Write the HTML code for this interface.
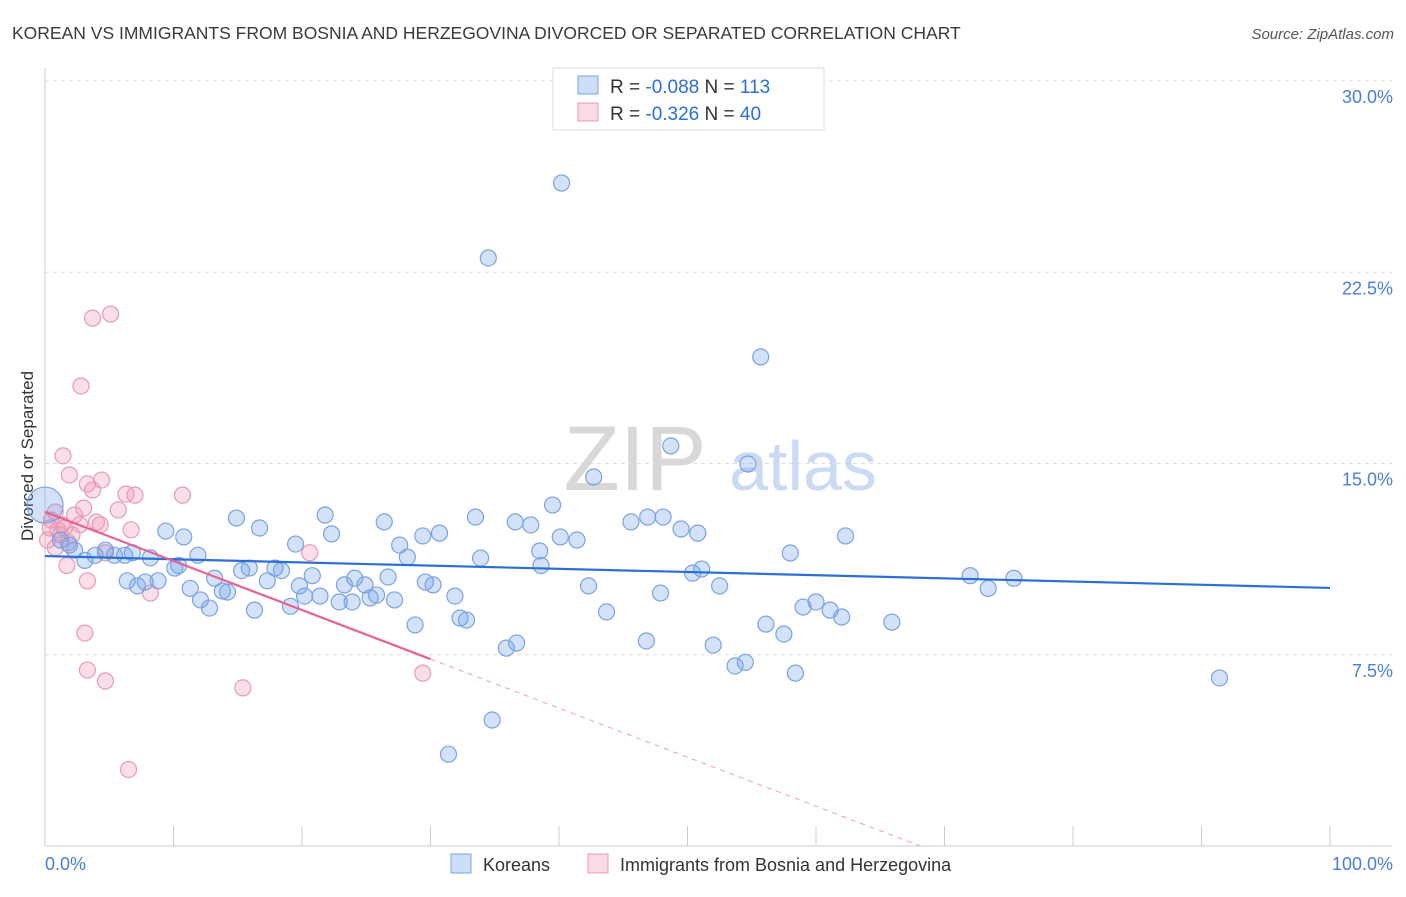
<!DOCTYPE html>
<html><head><meta charset="utf-8"><style>
body{margin:0;background:#fff;font-family:"Liberation Sans",sans-serif;}
svg text{font-family:"Liberation Sans",sans-serif;}
</style></head><body>
<svg width="1406" height="892" xmlns="http://www.w3.org/2000/svg">
<text x="12" y="39" font-size="17.5" fill="#3a3a3a">KOREAN VS IMMIGRANTS FROM BOSNIA AND HERZEGOVINA DIVORCED OR SEPARATED CORRELATION CHART</text>
<text x="1394" y="39" font-size="15" fill="#555" font-style="italic" text-anchor="end">Source: ZipAtlas.com</text>
<g id="grid"></g>
<g>
<text x="635" y="490" font-size="92" fill="#d8d8d8" font-family="Liberation Serif,serif" text-anchor="middle">ZIP</text>
<text x="803" y="490" font-size="70" fill="#c9daf2" text-anchor="middle">atlas</text>
</g>
<line x1="45" y1="68" x2="45" y2="846" stroke="#ccc"/>
<line x1="45" y1="846" x2="1392" y2="846" stroke="#ccc"/>
<g id="xticks"></g>
<g id="ylabels"></g>
<text x="45" y="870" font-size="18" fill="#4a7fd6">0.0%</text>
<text x="1393" y="870" font-size="18" fill="#4a7fd6" text-anchor="end">100.0%</text>
<text transform="translate(33,456) rotate(-90)" font-size="17" fill="#333" text-anchor="middle">Divorced or Separated</text>
<g id="pink"></g>
<g id="blue"></g>
<g id="lines"></g>
<g>
<rect x="553" y="68" width="271" height="62" fill="#fff" stroke="#ddd"/>
<rect x="578" y="76" width="20" height="18" fill="rgba(110,160,235,0.35)" stroke="#7aa3e0"/>
<rect x="578" y="103" width="20" height="18" fill="rgba(240,150,180,0.35)" stroke="#e89ab5"/>
<text x="610" y="93" font-size="19" fill="#333">R = <tspan fill="#2b6fd6">-0.088</tspan>   N = <tspan fill="#2b6fd6">113</tspan></text>
<text x="610" y="120" font-size="19" fill="#333">R =  <tspan fill="#2b6fd6">-0.326</tspan>   N =  <tspan fill="#2b6fd6">40</tspan></text>
</g>
<g>
<rect x="451" y="854" width="20" height="19" fill="rgba(110,160,235,0.35)" stroke="#7aa3e0"/>
<text x="483" y="871" font-size="18" fill="#333">Koreans</text>
<rect x="588" y="854" width="20" height="19" fill="rgba(240,150,180,0.35)" stroke="#e89ab5"/>
<text x="620" y="871" font-size="18" fill="#333">Immigrants from Bosnia and Herzegovina</text>
</g>
</svg>
<script>
const yTicks=[7.5,15,22.5,30];
const yTickLabels=["7.5%","15.0%","22.5%","30.0%"];
const xTicks=[0,10,20,30,40,50,60,70,80,90,100];
const blueX=[40.2,34.5,55.7,48.7,54.7,42.7,39.5,14.9,21.8,33.5,26.4,36.6,9.4,16.7,22.3,37.8,45.6,46.9,48.1,49.5,50.8,62.3,29.4,30.7,40.1,41.4,10.8,19.5,27.6,28.2,38.5,33.9,58.0,1.2,1.9,2.3,3.1,3.9,4.7,5.4,6.2,6.8,8.2,10.4,11.9,10.1,6.4,7.2,7.8,8.8,11.3,12.1,12.8,13.2,13.8,14.2,15.3,15.9,16.3,17.3,17.9,18.4,19.1,19.8,20.2,20.8,21.4,22.9,23.3,24.1,23.9,24.9,25.3,25.8,26.7,27.2,29.6,30.2,28.8,31.9,32.3,32.8,35.9,36.7,34.8,31.4,38.6,42.3,43.7,46.8,47.9,50.4,51.1,52.5,52.0,53.7,54.5,56.1,57.5,58.4,59.0,60.0,61.1,62.0,65.9,72.0,73.4,75.4,91.4];
const blueY=[26.0,23.06,19.18,15.69,14.98,14.47,13.37,12.86,12.98,12.9,12.71,12.71,12.35,12.47,12.24,12.59,12.71,12.9,12.9,12.43,12.27,12.16,12.16,12.27,12.12,12.0,12.12,11.84,11.8,11.33,11.57,11.29,11.49,12.0,11.8,11.6,11.2,11.4,11.6,11.4,11.4,11.5,11.3,11.0,11.4,10.9,10.4,10.2,10.35,10.4,10.1,9.65,9.33,10.5,10.0,9.96,10.8,10.9,9.25,10.4,10.9,10.8,9.4,10.2,9.8,10.6,9.8,9.57,10.24,10.5,9.57,10.24,9.73,9.84,10.55,9.65,10.35,10.24,8.67,9.8,8.94,8.86,7.76,7.96,4.94,3.6,11.0,10.2,9.18,8.04,9.92,10.7,10.86,10.2,7.88,7.06,7.2,8.7,8.31,6.78,9.37,9.57,9.25,8.98,8.78,10.6,10.1,10.5,6.59];
const bigX=[0], bigY=[13.37];
const pinkX=[5.1,3.7,2.8,1.4,1.9,4.4,3.3,3.7,6.3,7.0,10.7,5.7,3.0,2.3,0.8,0.5,1.3,1.0,4.0,6.7,0.4,2.1,1.8,1.2,4.7,20.6,1.7,3.3,8.2,3.1,3.3,4.7,15.4,29.4,6.5,2.7,0.2,0.8,1.5,4.3];
const pinkY=[20.86,20.7,18.04,15.3,14.55,14.35,14.2,13.96,13.8,13.76,13.76,13.18,13.25,12.98,13.1,12.78,12.6,12.4,12.7,12.4,12.47,12.2,11.9,12.2,11.5,11.5,11.0,10.4,9.92,8.35,6.9,6.47,6.2,6.78,3.0,12.6,12.0,11.7,12.47,12.6];
const blueTrend=[11.37,10.12];
const pinkTrend=[13.1,7.33];
const pinkSolidEnd=30;
const NS="http://www.w3.org/2000/svg";
const X=v=>45+v*12.85, Y=v=>846-v*25.5;
function mk(t,a,p){const e=document.createElementNS(NS,t);for(const k in a)e.setAttribute(k,a[k]);p.appendChild(e);return e;}
const grid=document.getElementById('grid'),yl=document.getElementById('ylabels');
yTicks.forEach((v,i)=>{
 const l=mk('line',{x1:45,x2:1392,y1:Y(v),y2:Y(v),stroke:'#ddd','stroke-dasharray':'4,4'},grid);
 
 
 const t=mk('text',{x:1393,y:Y(v)+22,'font-size':18,fill:'#4a7fd6','text-anchor':'end'},yl);
 t.textContent=yTickLabels[i];
 
 
});
const xt=document.getElementById('xticks');
xTicks.forEach(v=>{
 const l=mk('line',{x1:X(v),x2:X(v),y1:826,y2:846,stroke:'#ccc'},xt);
 
 
});
const bg=document.getElementById('blue'),pg=document.getElementById('pink');
pinkX.forEach((v,i)=>{
 const c=mk('circle',{cx:X(v),cy:Y(pinkY[i]),r:8,fill:'rgba(240,150,180,0.3)',stroke:'#e89ab5','stroke-width':1.2},pg);
 
 
});
blueX.forEach((v,i)=>{
 const c=mk('circle',{cx:X(v),cy:Y(blueY[i]),r:8,fill:'rgba(110,160,235,0.3)',stroke:'#7aa3e0','stroke-width':1.2},bg);
 
 
});
bigX.forEach((v,i)=>{
 const c=mk('circle',{cx:X(v),cy:Y(bigY[i]),r:18,fill:'rgba(110,160,235,0.3)',stroke:'#7aa3e0','stroke-width':1.2},bg);
 
 
});
const lg=document.getElementById('lines');
let l=mk('line',{x1:X(0),y1:Y(blueTrend[0]),x2:X(100),y2:Y(blueTrend[1]),stroke:'#2b6fd6','stroke-width':2.2},lg);


const slope=(pinkTrend[1]-pinkTrend[0])/30, zeroX=-pinkTrend[0]/slope;
l=mk('line',{x1:X(0),y1:Y(pinkTrend[0]),x2:X(pinkSolidEnd),y2:Y(pinkTrend[0]+slope*pinkSolidEnd),stroke:'#e8628f','stroke-width':2.2},lg);


l=mk('line',{x1:X(pinkSolidEnd),y1:Y(pinkTrend[0]+slope*pinkSolidEnd),x2:X(zeroX),y2:Y(0),stroke:'#e8a0b8','stroke-width':1,'stroke-dasharray':'5,5'},lg);


</script>
</body></html>
